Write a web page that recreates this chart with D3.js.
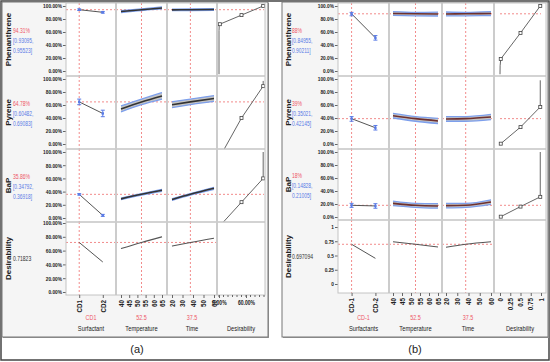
<!DOCTYPE html>
<html><head><meta charset="utf-8">
<script src="https://cdn.jsdelivr.net/npm/d3@7"></script>
<style>body{margin:0;background:#fff}svg{display:block}text{font-family:"Liberation Sans",Arial,sans-serif}</style>
</head><body><svg id="c" width="550" height="362"></svg>
<script>
// ---------------- data ----------------
const responses = ["Phenanthrene","Pyrene","BaP","Desirability"];
const factorNamesA = ["Surfactant","Temperature","Time","Desirability"];
const factorNamesB = ["Surfactants","Temperature","Time","Desirability"];
const surfA = ["CD1","CD2"];
const surfB = ["CD-1","CD-2"];
const currentA = ["CD1","52.5","37.5"];
const currentB = ["CD-1","52.5","37.5"];
const tempTicks = [40,45,50,55,60,65];
const timeTicks = [20,30,40,50,60];
const tempX = [40,52.5,65];
const timeX = [20,37.5,60];
const pctTicks = [0,20,40,60,80,100];
const desTicksB = [0,0.25,0.5,0.75,1];
const desTicksA = [0,0.6];

// panel (a)
const predA = ["94.31%","64.78%","35.86%","0.71823"];
const ciA = [["[0.93095,","0.95523]"],["[0.60482,","0.69083]"],["[0.34792,","0.36918]"]];
const predValA = [94.31,64.78,35.86,71.82];
const surfValA = [[94.31,90.3],[64.78,47],[35.86,4],[71.82,43.5]];
const surfLoA = [[93.1,89.0],[60.48,42],[34.79,2.5]];
const surfHiA = [[95.52,91.6],[69.08,52],[36.92,5.5]];
const tempValA = [[91.5,94.31,97.0],[54,64.78,74],[29,35.86,42],[63,71.82,80]];
const tempLoA = [[90,93.1,95.5],[49.5,60.48,69],[27.8,34.79,40.5]];
const tempHiA = [[93,95.52,98.5],[58.5,69.08,79],[30.2,36.92,43.5]];
const timeValA = [[94.0,94.31,94.7],[60.5,64.78,70],[28,35.86,45],[66.5,71.82,78]];
const timeLoA = [[92.8,93.1,93.4],[56,60.48,65.5],[26.8,34.79,43.5]];
const timeHiA = [[95.2,95.52,96],[65,69.08,74.5],[29.2,36.92,46.5]];
const desLineA = [
  [[0,-5],[0,62],[0.005,69],[0.0183,72],[0.5,86],[0.9819,100]],
  [[0.0183,-20],[0.5,40],[0.9819,89],[0.9819,97]],
  [[0.0183,-12],[0.5,24],[0.9819,60],[0.9819,100]]
];
const desPtsA = [
  [[0.0183,72],[0.5,86],[0.9819,100]],
  [[0.0183,-20],[0.5,40],[0.9819,89]],
  [[0.0183,-12],[0.5,24],[0.9819,60]]
];

// panel (b)
const predB = ["88%","39%","18%","0.697094"];
const ciB = [["[0.84955,","0.90211]"],["[0.35021,","0.42145]"],["[0.14828,","0.21005]"]];
const predValB = [88,39,18,0.697];
const surfValB = [[88,51],[39,25],[18,17],[0.697,0.45]];
const surfLoB = [[84.96,47.5],[35.02,21.5],[14.83,13.5]];
const surfHiB = [[90.21,54.5],[42.15,28.5],[21.0,20.5]];
const tempValB = [[88.5,88,87.6],[43.5,39,35.5],[21,18,17],[0.74,0.697,0.65]];
const tempLoB = [[85.5,84.96,84.6],[40,35.02,31.5],[17.5,14.83,13.5]];
const tempHiB = [[91.5,90.21,90.6],[47,42.15,39.5],[24.5,21.0,20.5]];
const timeValB = [[87.8,88,88.4],[38.5,39,41.5],[17.5,18,23],[0.645,0.697,0.74]];
const timeLoB = [[84.8,84.96,85.4],[35,35.02,37.5],[14,14.83,19.5]];
const timeHiB = [[90.8,90.21,91.4],[42,42.15,45.5],[21,21.0,26.5]];
const desLineB = [
  [[0,-5],[0.003,8],[0.0183,18.5],[0.5,58.5],[0.9819,100]],
  [[0.0183,0.5],[0.5,26],[0.9819,57],[0.9819,98]],
  [[0.0183,0.5],[0.5,16],[0.9819,31],[0.9819,100]]
];
const desPtsB = [
  [[0.0183,18.5],[0.5,58.5],[0.9819,100]],
  [[0.0183,0.5],[0.5,26],[0.9819,57]],
  [[0.0183,0.5],[0.5,16],[0.9819,31]]
];

// ---------------- drawing ----------------
const svg = d3.select("#c");
const RED = "#ee5566", BLUE = "#5a7be6", DASH = "#f28b8b";
function squeeze(sel, f){
  sel.each(function(){
    const w = this.getComputedTextLength();
    d3.select(this).attr("textLength", w*f).attr("lengthAdjust","spacingAndGlyphs");
  });
}
svg.append("rect").attr("x",1).attr("y",1).attr("width",548).attr("height",359)
  .attr("fill","#fff").attr("stroke","#444").attr("stroke-width",1.5);

function drawPanel(P){
  const g = svg.append("g");
  const C = P.cols, T = P.rowTops, bot = P.bottom;
  g.append("rect").attr("x",P.box[0]+1).attr("y",P.box[1]+1).attr("width",P.box[2]-P.box[0]).attr("height",P.box[3]-P.box[1])
    .attr("fill","#999");
  g.append("rect").attr("x",P.box[0]).attr("y",P.box[1]).attr("width",P.box[2]-P.box[0]).attr("height",P.box[3]-P.box[1])
    .attr("fill","#f5f5f5").attr("stroke","#777").attr("stroke-width",1);
  g.append("rect").attr("x",C[0]).attr("y",T[0]).attr("width",C[4]-C[0]).attr("height",bot-T[0]).attr("fill","#fff");

  const xs = [
    d3.scalePoint().domain(P.surf).range([C[0],C[1]]).padding(P.pad),
    d3.scaleLinear().domain([40,65]).range(P.tempR),
    d3.scaleLinear().domain([20,60]).range(P.timeR),
    d3.scaleLinear().domain([0,1]).range(P.desR)
  ];
  const ys = P.yR.map((r,i)=> d3.scaleLinear().domain(i===3 ? P.row4Dom : [0,100]).range(r));
  const rowB = r => r<3 ? T[r+1] : bot;
  const defs = svg.append("defs");
  const clip = (r,c) => {
    const id = P.id+"c"+r+"_"+c;
    defs.append("clipPath").attr("id",id).append("rect")
      .attr("x",C[c]).attr("y",T[r]).attr("width",C[c+1]-C[c]).attr("height",rowB(r)-T[r]);
    return "url(#"+id+")";
  };

  for(let r=0;r<4;r++){
    const y = ys[r];
    // y axis
    const ax = g.append("g").attr("transform",`translate(${C[0]},0)`)
      .call(d3.axisLeft(y).tickValues(P.yTicks[r]).tickFormat(P.yFmt[r]).tickSize(3));
    ax.select(".domain").remove();
    ax.selectAll("line").attr("stroke","#666");
    ax.selectAll("text").attr("font-size",6).attr("font-weight","bold").attr("fill","#222").attr("x",-4).call(squeeze,0.8);

    const cells = [0,1,2].map(c=>g.append("g").attr("clip-path",clip(r,c)));
    // current-setting verticals
    const curX = [xs[0](P.surf[0]), xs[1](52.5), xs[2](37.5)];
    curX.forEach((cx,c)=>cells[c].append("line").attr("x1",cx).attr("x2",cx).attr("y1",T[r]).attr("y2",rowB(r))
      .attr("stroke",DASH).attr("stroke-dasharray","2,2"));
    // horizontal at prediction
    const py = y(P.pred[r]);
    [0,1,2].forEach(c=>cells[c].append("line").attr("x1",C[c]).attr("x2",C[c+1]).attr("y1",py).attr("y2",py)
      .attr("stroke",DASH).attr("stroke-dasharray","2,2"));
    const lineCol = r===3 ? "#555" : P.lineCol;
    // surfactant
    const sd = P.surf.map((s,i)=>[xs[0](s), y(P.surfVal[r][i])]);
    cells[0].append("path").attr("d",d3.line()(sd)).attr("fill","none").attr("stroke",r===3?"#555":"#555").attr("stroke-width",1);
    if(r<3){
      P.surf.forEach((s,i)=>{
        const x = xs[0](s), lo=y(P.surfLo[r][i]), hi=y(P.surfHi[r][i]);
        const e = cells[0].append("g").attr("stroke",BLUE).attr("stroke-width",1);
        e.append("line").attr("x1",x).attr("x2",x).attr("y1",lo).attr("y2",hi);
        e.append("line").attr("x1",x-2).attr("x2",x+2).attr("y1",lo).attr("y2",lo);
        e.append("line").attr("x1",x-2).attr("x2",x+2).attr("y1",hi).attr("y2",hi);
        cells[0].append("rect").attr("x",x-1.2).attr("y",y(P.surfVal[r][i])-1.2).attr("width",2.4).attr("height",2.4).attr("fill",BLUE);
      });
    }
    // temperature & time
    [[1,tempX,P.tempVal,P.tempLo,P.tempHi],[2,timeX,P.timeVal,P.timeLo,P.timeHi]].forEach(([c,xv,V,L,H])=>{
      const xsc = xs[c];
      if(r<3){
        const area = d3.area().x((d,i)=>xsc(xv[i])).y0((d,i)=>y(L[r][i])).y1((d,i)=>y(H[r][i])).curve(d3.curveMonotoneX);
        cells[c].append("path").attr("d",area(xv)).attr("fill","#c4c4c4");
        [L,H].forEach(B=>cells[c].append("path")
          .attr("d",d3.line().x((d,i)=>xsc(xv[i])).y((d,i)=>y(B[r][i])).curve(d3.curveMonotoneX)(xv))
          .attr("fill","none").attr("stroke","#7d9fec").attr("stroke-width",1.3));
      }
      cells[c].append("path").attr("d",d3.line().x((d,i)=>xsc(xv[i])).y((d,i)=>y(V[r][i])).curve(d3.curveMonotoneX)(xv))
        .attr("fill","none").attr("stroke",lineCol).attr("stroke-width",r<3?1.6:1.1);
    });
    // desirability column
    if(r<3){
      const dc = g.append("g").attr("clip-path",clip(r,3));
      dc.append("line").attr("x1",xs[3](0)).attr("x2",xs[3](1)).attr("y1",py).attr("y2",py)
        .attr("stroke",DASH).attr("stroke-dasharray","2,2");
      dc.append("path").attr("d",d3.line().x(d=>xs[3](d[0])).y(d=>y(d[1]))(P.desLine[r]))
        .attr("fill","none").attr("stroke","#666").attr("stroke-width",1);
      dc.selectAll("rect.m").data(P.desPts[r]).join("rect")
        .attr("x",d=>xs[3](d[0])-1.5).attr("y",d=>y(d[1])-1.5).attr("width",3).attr("height",3)
        .attr("fill","#fff").attr("stroke","#444").attr("stroke-width",0.8);
    }
    // row label & predictions
    const rc = (T[r]+rowB(r))/2;
    g.append("text").attr("transform",`translate(${P.labelX},${rc}) rotate(-90)`).attr("text-anchor","middle")
      .attr("dy","0.35em").attr("font-size",8).attr("font-weight","bold").attr("fill","#222").text(responses[r]);
    if(r<3){
      g.append("text").attr("x",P.textX).attr("y",rc-7).attr("font-size",7).attr("fill",RED).text(P.predTxt[r]).call(squeeze,0.72);
      g.append("text").attr("x",P.textX).attr("y",rc+3.5).attr("font-size",7).attr("fill",BLUE).text(P.ci[r][0]).call(squeeze,0.7);
      g.append("text").attr("x",P.textX).attr("y",rc+13).attr("font-size",7).attr("fill",BLUE).text(P.ci[r][1]).call(squeeze,0.7);
    } else {
      g.append("text").attr("x",P.textX).attr("y",rc+2.5).attr("font-size",7).attr("fill","#333").text(P.predTxt[r]).call(squeeze,0.72);
    }
  }
  // separators & frame
  [1,2,3].forEach(r=>g.append("line").attr("x1",C[0]).attr("x2",C[4]).attr("y1",T[r]).attr("y2",T[r]).attr("stroke","#c4c4c4").attr("stroke-width",1.5));
  [1,2,3].forEach(c=>g.append("line").attr("x1",C[c]).attr("x2",C[c]).attr("y1",T[0]).attr("y2",bot).attr("stroke","#cccccc").attr("stroke-width",2));
  g.append("rect").attr("x",C[0]).attr("y",T[0]).attr("width",C[4]-C[0]).attr("height",bot-T[0]).attr("fill","none").attr("stroke","#c4c4c4").attr("stroke-width",1);

  // x axes
  const xa = (scale, ticks, fmt, rot) => {
    const a = g.append("g").attr("transform",`translate(0,${bot})`)
      .call(d3.axisBottom(scale).tickValues(ticks).tickFormat(fmt).tickSize(3));
    a.select(".domain").remove();
    a.selectAll("line").attr("stroke","#666");
    const t = a.selectAll("text").attr("font-size",6.3).attr("font-weight","bold").attr("fill","#222");
    if(rot){ t.attr("transform","rotate(-90)").attr("text-anchor","end").attr("x",-5).attr("y",0).attr("dy","0.35em"); }
    else { t.attr("y",6).call(squeeze,0.8); }
    return a;
  };
  xa(xs[0], P.surf, d=>d, true);
  xa(xs[1], tempTicks, d=>d, true);
  xa(xs[2], timeTicks, d=>d, true);
  if(P.id==="A"){
    xa(xs[3], desTicksA, d3.format(".2%"), false);
    const mt = g.append("g").attr("transform",`translate(0,${bot})`);
    d3.range(0,1.01,0.1).forEach(v=>mt.append("line").attr("x1",xs[3](v)).attr("x2",xs[3](v)).attr("y1",0).attr("y2",2).attr("stroke","#666"));
  } else {
    xa(xs[3], desTicksB, d=>d, true);
  }
  // factor names
  [0,1,2,3].forEach(c=>{
    const cx = (C[c]+C[c+1])/2;
    if(c<3) g.append("text").attr("x",cx).attr("y",320).attr("text-anchor","middle").attr("font-size",7.5).attr("fill",RED).text(P.cur[c]).call(squeeze,0.72);
    g.append("text").attr("x",cx).attr("y",331).attr("text-anchor","middle").attr("font-size",8).attr("fill","#222").text(P.names[c]).call(squeeze,0.72);
  });
  svg.append("text").attr("x",P.tagX).attr("y",353).attr("text-anchor","middle").attr("font-size",11).attr("fill","#222").text(P.tag);
}

drawPanel({
  id:"A", box:[2,2,268,337], cols:[66,116,167,217,265], rowTops:[3,76,149,222], bottom:295,
  surf:surfA, pad:0.56, tempR:[121,162], timeR:[172,214], desR:[219,264],
  yR:[[71,6],[144,79],[218,152],[292,223]], row4Dom:[0,100],
  yTicks:[pctTicks,pctTicks,pctTicks,pctTicks], yFmt:[0,1,2,3].map(()=>d=>d.toFixed(2)+"%"),
  pred:predValA, predTxt:predA, ci:ciA, surfVal:surfValA, surfLo:surfLoA, surfHi:surfHiA,
  tempVal:tempValA, tempLo:tempLoA, tempHi:tempHiA, timeVal:timeValA, timeLo:timeLoA, timeHi:timeHiA,
  desLine:desLineA, desPts:desPtsA, lineCol:"#333", textX:13, labelX:8,
  cur:currentA, names:factorNamesA, tag:"(a)", tagX:137
});
drawPanel({
  id:"B", box:[282,2,548,337], cols:[338,389,442,494,546], rowTops:[3,76,149,220], bottom:293,
  surf:surfB, pad:0.57, tempR:[393,438], timeR:[446,491], desR:[500,541],
  yR:[[71,6],[144,79],[217,152],[284,227]], row4Dom:[0,1],
  yTicks:[pctTicks,pctTicks,pctTicks,desTicksB],
  yFmt:[d=>d.toFixed(1)+"%",d=>d.toFixed(1)+"%",d=>d.toFixed(1)+"%",d=>String(d)],
  pred:predValB, predTxt:predB, ci:ciB, surfVal:surfValB, surfLo:surfLoB, surfHi:surfHiB,
  tempVal:tempValB, tempLo:tempLoB, tempHi:tempHiB, timeVal:timeValB, timeLo:timeLoB, timeHi:timeHiB,
  desLine:desLineB, desPts:desPtsB, lineCol:"#6e3030", textX:292, labelX:288,
  cur:currentB, names:factorNamesB, tag:"(b)", tagX:415
});
</script></body></html>
